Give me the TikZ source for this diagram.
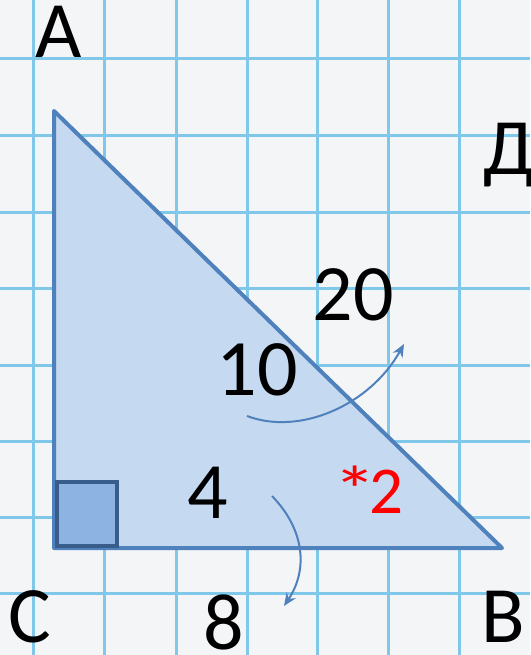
\documentclass[tikz,border=0pt]{standalone}
\usepackage{fontspec}
\setmainfont{Carlito}
\usetikzlibrary{arrows.meta}
\definecolor{paper}{RGB}{243,245,247}
\definecolor{gridblue}{RGB}{128,200,234}
\definecolor{edgeblue}{RGB}{79,129,189}
\definecolor{fillblue}{RGB}{197,217,241}
\definecolor{rightfill}{RGB}{141,179,226}
\definecolor{rightedge}{RGB}{56,93,138}

\begin{document}
\begin{tikzpicture}[x=1pt, y=-1pt,
    gridline/.style={gridblue, line width=3pt},
    txt/.style={font=\fontsize{80}{90}\selectfont, inner sep=0pt, anchor=base},
    turn/.style={edgeblue, line width=2pt, -{Stealth[length=13pt,width=11pt]}}
]

% Paper
\fill[paper] (0,0) rectangle (530,655);
\useasboundingbox (0,0) rectangle (530,655);

% Grid
\foreach \x in {33,104,176,247,317,388,459}
    \draw[gridline] (\x,0) -- (\x,655);
\foreach \y in {59,136,212,288,365,441,517,593}
    \draw[gridline] (0,\y) -- (530,\y);

% Triangle
\coordinate (A) at (54,111);
\coordinate (C) at (54,548);
\coordinate (B) at (502,548);
\draw[edgeblue, fill=fillblue, line width=4pt, line join=round] (A) -- (C) -- (B) -- cycle;

% Right angle
\draw[rightedge, fill=rightfill, line width=4pt] (57,482) rectangle (117,546);

% Vertex names
\node[txt] (la) at (59,58) {A};
\node[txt] (lc) at (30,642) {C};
\node[txt] (lb) at (503,642) {B};
\node[txt, anchor=base west] (given) at (483,175) {Д};

% Numbers
\node[txt] (n10) at (257,395) {10};
\node[txt] (n20) at (353,320) {20};
\node[txt] (n4) at (208,518) {4};
\node[txt] (n8) at (224,649) {8};
\node[txt, anchor=base west, red, font=\fontsize{67}{76}\selectfont] (times) at (333,513) {\scalebox{1.3}[1]{*}\kern-7pt 2};

% Arrows
\coordinate (up0) at (247,416);
\coordinate (up1) at (404,344);
\coordinate (dn0) at (272,496);
\coordinate (dn1) at (284,606);
\draw[turn] (up0) .. controls (300,436) and (370,405) .. (up1);
\draw[turn] (dn0) .. controls (305,530) and (308,570) .. (dn1);

\end{tikzpicture}
\end{document}
